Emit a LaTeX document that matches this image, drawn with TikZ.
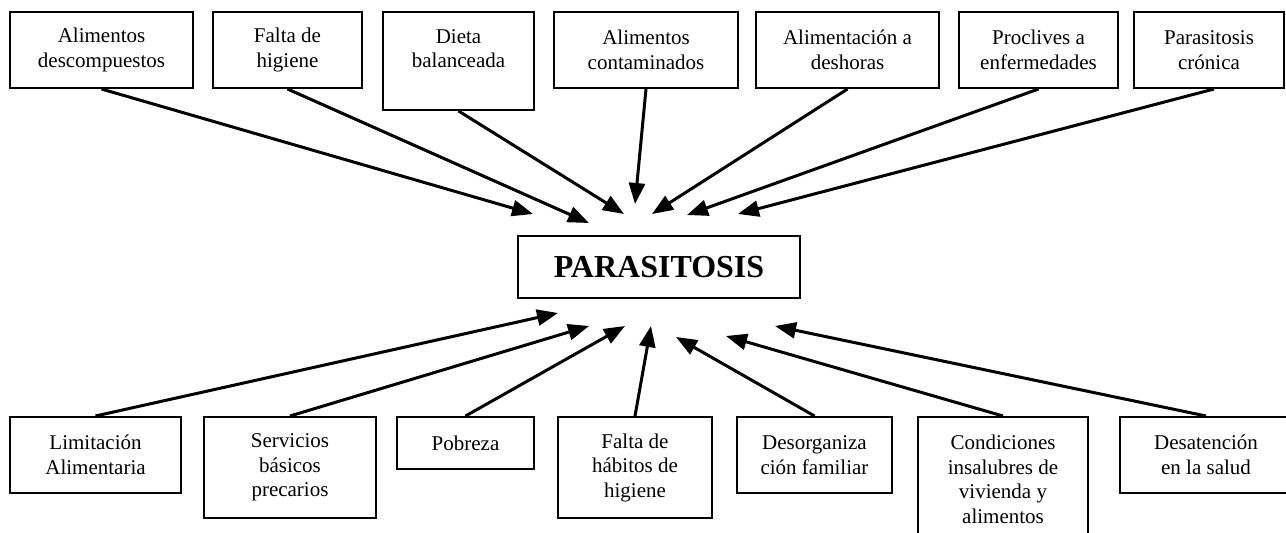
\documentclass[tikz,border=0pt]{standalone}
\usepackage{fontspec}
\setmainfont{Liberation Serif}
\usetikzlibrary{arrows.meta}
\begin{document}
\begin{tikzpicture}[x=1pt,y=-1pt,
  box/.style={draw=black,line width=2pt,inner sep=0pt,align=center,
    font={\fontsize{21}{24.5}\selectfont}},
  mainbox/.style={draw=black,line width=2pt,inner sep=0pt,
    font={\fontsize{32}{36}\selectfont\bfseries}},
  arr/.style={line width=3pt,-{Triangle[length=21pt,width=16pt]}}]
\useasboundingbox (0,0) rectangle (1286,533);
\clip (0,0) rectangle (1286,533);
% top boxes
\node[box,minimum width=183pt,minimum height=76pt] (t1) at (101.5,50) {Alimentos\\descompuestos};
\node[box,minimum width=149pt,minimum height=76pt] (t2) at (287.5,50) {Falta de\\higiene};
\node[box,minimum width=151pt,minimum height=98pt] (t3) at (458.5,61) {Dieta\\balanceada\\\mbox{}};
\node[box,minimum width=184pt,minimum height=76pt] (t4) at (646,50) {Alimentos\\contaminados};
\node[box,minimum width=183pt,minimum height=76pt] (t5) at (847.5,50) {Alimentación a\\deshoras};
\node[box,minimum width=159pt,minimum height=76pt] (t6) at (1038.5,50) {Proclives a\\enfermedades};
\node[box,minimum width=150pt,minimum height=76pt] (t7) at (1209,50) {Parasitosis\\crónica};
% center
\node[mainbox,minimum width=282pt,minimum height=62pt] (c) at (659,267) {PARASITOSIS};
% bottom boxes
\node[box,minimum width=171pt,minimum height=76pt] (b1) at (95.5,455) {Limitación\\Alimentaria};
\node[box,minimum width=172pt,minimum height=101pt] (b2) at (290,467.5) {Servicios\\básicos\\precarios};
\node[box,minimum width=137pt,minimum height=52pt] (b3) at (465.5,443) {Pobreza};
\node[box,minimum width=154pt,minimum height=101pt] (b4) at (635,467.5) {Falta de\\hábitos de\\higiene};
\node[box,minimum width=155pt,minimum height=76pt] (b5) at (814.5,455) {Desorganiza\\ción familiar};
\node[box,minimum width=170pt,minimum height=125pt] (b6) at (1003,479.5) {Condiciones\\insalubres de\\vivienda y\\alimentos};
\node[box,minimum width=172pt,minimum height=76pt] (b7) at (1206,455) {Desatención\\en la salud};
% arrow tips
\coordinate (ta1) at (533,214);
\coordinate (ta2) at (589,223);
\coordinate (ta3) at (624,214);
\coordinate (ta4) at (635,204);
\coordinate (ta5) at (652,214);
\coordinate (ta6) at (687,215);
\coordinate (ta7) at (738,214);
\coordinate (tb1) at (558,313);
\coordinate (tb2) at (589,326);
\coordinate (tb3) at (625,326);
\coordinate (tb4) at (651,326);
\coordinate (tb5) at (676,337);
\coordinate (tb6) at (726,336);
\coordinate (tb7) at (775,326);
% arrows
\draw[arr] (t1.south) -- (ta1);
\draw[arr] (t2.south) -- (ta2);
\draw[arr] (t3.south) -- (ta3);
\draw[arr] (t4.south) -- (ta4);
\draw[arr] (t5.south) -- (ta5);
\draw[arr] (t6.south) -- (ta6);
\draw[arr] ([xshift=5pt]t7.south) -- (ta7);
\draw[arr] (b1.north) -- (tb1);
\draw[arr] (b2.north) -- (tb2);
\draw[arr] (b3.north) -- (tb3);
\draw[arr] (b4.north) -- (tb4);
\draw[arr] (b5.north) -- (tb5);
\draw[arr] (b6.north) -- (tb6);
\draw[arr] (b7.north) -- (tb7);
\end{tikzpicture}
\end{document}
